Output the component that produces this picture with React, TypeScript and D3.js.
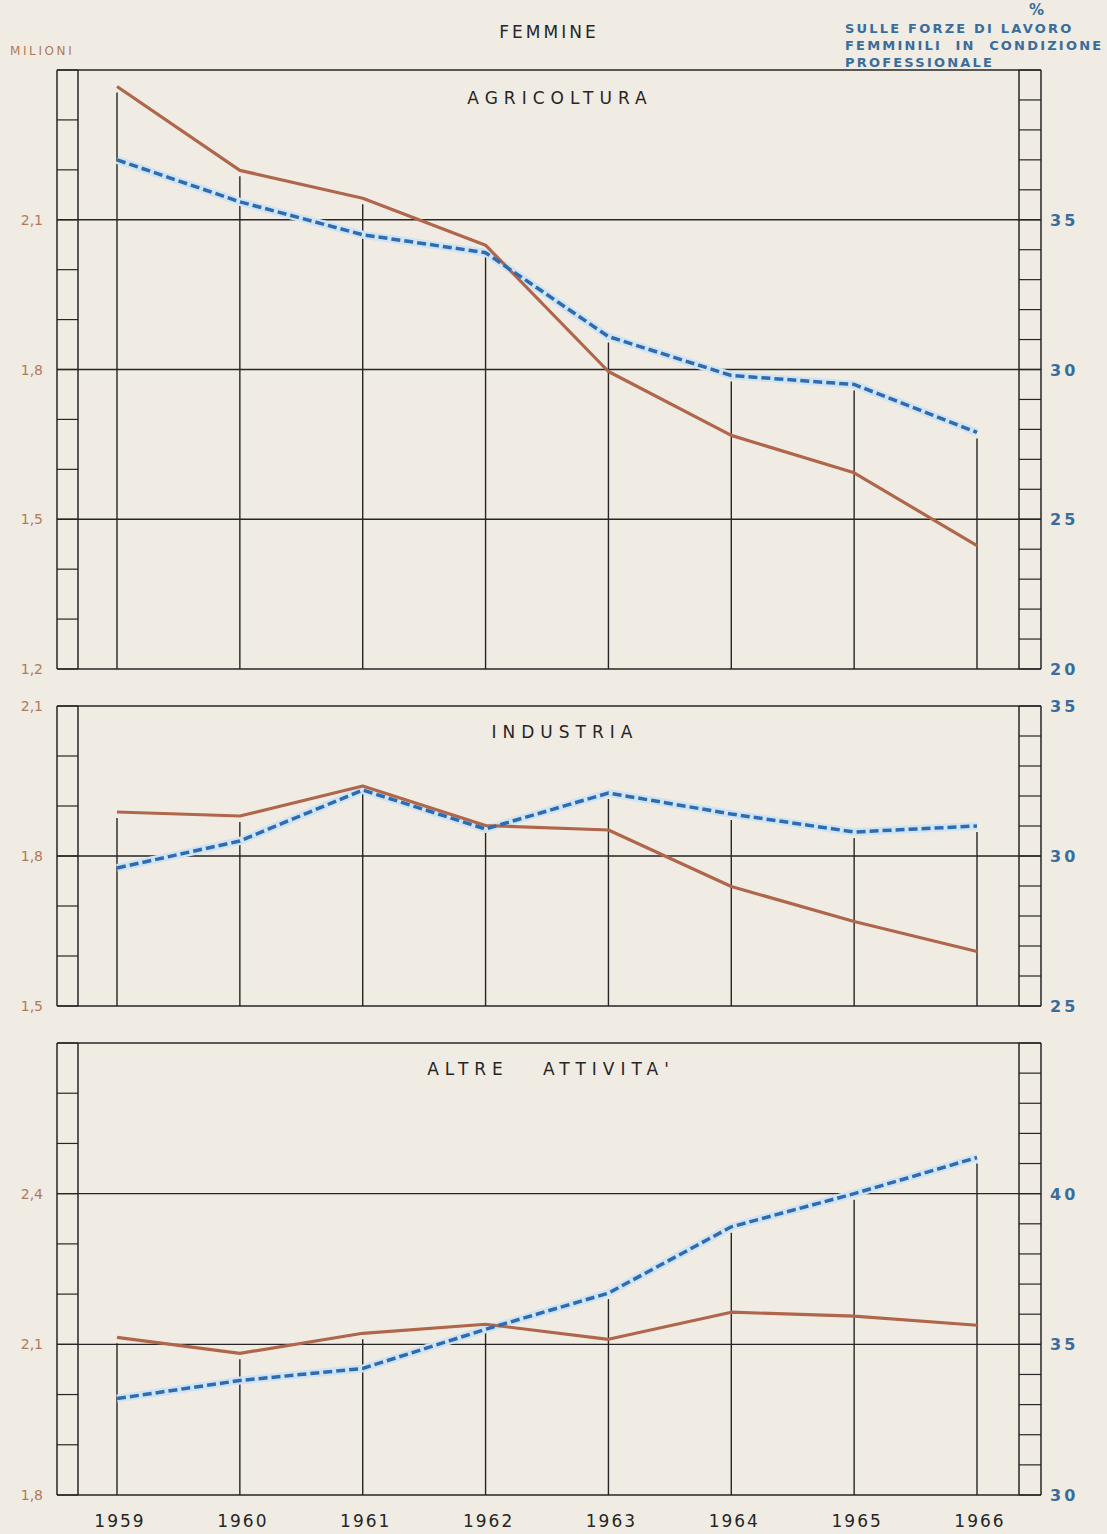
import React from "react";
import * as d3 from "d3";

// ---------- DATA ----------
const years = [1959, 1960, 1961, 1962, 1963, 1964, 1965, 1966];

// Agricoltura
const agriMilioni = [2.367, 2.199, 2.143, 2.049, 1.796, 1.668, 1.593, 1.447];
const agriPercent = [37.0, 35.6, 34.5, 33.9, 31.1, 29.8, 29.5, 27.9];
// Industria
const indMilioni = [1.888, 1.88, 1.94, 1.861, 1.852, 1.739, 1.669, 1.609];
const indPercent = [29.6, 30.5, 32.2, 30.9, 32.1, 31.4, 30.8, 31.0];
// Altre attività
const altreMilioni = [2.114, 2.082, 2.122, 2.14, 2.11, 2.164, 2.156, 2.138];
const altrePercent = [33.2, 33.8, 34.2, 35.5, 36.7, 38.9, 40.0, 41.2];

const panelTitles = ["AGRICOLTURA", "INDUSTRIA", "ALTRE   ATTIVITA'"];
const leftDomains = [[1.2, 2.4], [1.5, 2.1], [1.8, 2.7]];
const rightDomains = [[20, 40], [25, 35], [30, 45]];
const leftLabels = [[1.2, 1.5, 1.8, 2.1], [1.5, 1.8, 2.1], [1.8, 2.1, 2.4]];
const rightLabels = [[20, 25, 30, 35], [25, 30, 35], [30, 35, 40]];
const gridValues = [[1.5, 1.8, 2.1], [1.8], [2.1, 2.4]];

const headerTitle = "FEMMINE";
const unitLeft = "MILIONI";
const unitRightLines = ["SULLE FORZE DI LAVORO", "FEMMINILI  IN  CONDIZIONE", "PROFESSIONALE"];

// ---------- LAYOUT ----------
const W = 1107;
const H = 1534;
const xOuterL = 57;
const xInnerL = 78;
const xInnerR = 1019;
const xOuterR = 1041;
const panelTops = [70, 706, 1043];
const panelBottoms = [669, 1006, 1495];
const titleYs = [104, 738, 1075];
const titleXs = [560, 565, 551];

const BG = "#f0ece3";
const INK = "#262626";
const RED = "#b0664b";
const BLUE = "#2e6bb0";
const HALO = "#cfe3f3";
const LEFT_LABEL = "#b07a58";
const RIGHT_LABEL = "#3a6c9c";
const FONT = "'DejaVu Sans', 'Open Sans', sans-serif";

const x = d3.scaleLinear().domain([1959, 1966]).range([117, 977]);

const series = [
  [agriMilioni, agriPercent],
  [indMilioni, indPercent],
  [altreMilioni, altrePercent],
];

function Panel({ i }: { i: number }) {
  const top = panelTops[i];
  const bottom = panelBottoms[i];
  const yL = d3.scaleLinear().domain(leftDomains[i]).range([bottom, top]);
  const yR = d3.scaleLinear().domain(rightDomains[i]).range([bottom, top]);
  const [mil, pct] = series[i];

  const lineL = d3
    .line<number>()
    .x((_, j) => x(years[j]))
    .y((d) => yL(d));
  const lineR = d3
    .line<number>()
    .x((_, j) => x(years[j]))
    .y((d) => yR(d));

  const leftMinor = d3.range(
    Math.round(leftDomains[i][0] * 10),
    Math.round(leftDomains[i][1] * 10) + 1
  ).map((v) => v / 10);
  const rightMinor = d3.range(rightDomains[i][0], rightDomains[i][1] + 1);

  return (
    <g>
      {gridValues[i].map((v) => (
        <line key={"g" + v} x1={xOuterL} x2={xOuterR} y1={yL(v)} y2={yL(v)} stroke={INK} strokeWidth={1.4} />
      ))}
      {years.map((yr, j) => {
        const topY = Math.min(yL(mil[j]), yR(pct[j])) + 6;
        return (
          <line key={"v" + yr} x1={x(yr)} x2={x(yr)} y1={topY} y2={bottom} stroke={INK} strokeWidth={1.4} />
        );
      })}
      {leftMinor.map((v) => (
        <line key={"lt" + v} x1={xOuterL} x2={xInnerL} y1={yL(v)} y2={yL(v)} stroke={INK} strokeWidth={1.2} />
      ))}
      {rightMinor.map((v) => (
        <line key={"rt" + v} x1={xInnerR} x2={xOuterR} y1={yR(v)} y2={yR(v)} stroke={INK} strokeWidth={1.2} />
      ))}
      <line x1={xOuterL} x2={xOuterR} y1={top} y2={top} stroke={INK} strokeWidth={1.5} />
      <line x1={xOuterL} x2={xOuterR} y1={bottom} y2={bottom} stroke={INK} strokeWidth={1.5} />
      <line x1={xOuterL} x2={xOuterL} y1={top} y2={bottom} stroke={INK} strokeWidth={1.5} />
      <line x1={xInnerL} x2={xInnerL} y1={top} y2={bottom} stroke={INK} strokeWidth={1.5} />
      <line x1={xInnerR} x2={xInnerR} y1={top} y2={bottom} stroke={INK} strokeWidth={1.5} />
      <line x1={xOuterR} x2={xOuterR} y1={top} y2={bottom} stroke={INK} strokeWidth={1.5} />
      <text x={titleXs[i]} y={titleYs[i]} textAnchor="middle" fontFamily={FONT} fontSize={17} letterSpacing={6} fill={INK} style={{ whiteSpace: "pre" }}>
        {panelTitles[i]}
      </text>
      <path d={lineR(pct) || ""} fill="none" stroke={HALO} strokeWidth={8} strokeLinejoin="round" />
      <path d={lineL(mil) || ""} fill="none" stroke={RED} strokeWidth={3.2} strokeLinejoin="round" />
      <path d={lineR(pct) || ""} fill="none" stroke={BLUE} strokeWidth={3.5} strokeDasharray="9,4" />
      {leftLabels[i].map((v) => (
        <text key={"ll" + v} x={43} y={yL(v) + 5} textAnchor="end" fontFamily={FONT} fontSize={14} fill={LEFT_LABEL}>
          {d3.format(".1f")(v).replace(".", ",")}
        </text>
      ))}
      {rightLabels[i].map((v) => (
        <text key={"rl" + v} x={1050} y={yR(v) + 6} fontFamily={FONT} fontSize={16} fontWeight="bold" letterSpacing={3} fill={RIGHT_LABEL}>
          {v}
        </text>
      ))}
    </g>
  );
}

export default function App() {
  return (
    <div style={{ position: "absolute", left: 0, top: 0, width: W, height: H }}>
      <svg width={W} height={H} style={{ display: "block" }}>
        <rect x={0} y={0} width={W} height={H} fill={BG} />
        <text x={549} y={38} textAnchor="middle" fontFamily={FONT} fontSize={17} letterSpacing={3} fill={INK}>
          {headerTitle}
        </text>
        <text x={10} y={55} fontFamily={FONT} fontSize={12} letterSpacing={2.6} fill={LEFT_LABEL}>
          {unitLeft}
        </text>
        <text x={1029} y={15} fontFamily={FONT} fontSize={15} fontWeight="bold" fill={RIGHT_LABEL}>
          %
        </text>
        {unitRightLines.map((t, k) => (
          <text key={t} x={845} y={33 + k * 17} fontFamily={FONT} fontSize={13} fontWeight="bold" letterSpacing={2.2} fill={RIGHT_LABEL} style={{ whiteSpace: "pre" }}>
            {t}
          </text>
        ))}
        {[0, 1, 2].map((i) => (
          <Panel key={i} i={i} />
        ))}
        {years.map((yr) => (
          <text key={yr} x={x(yr) + 3} y={1527} textAnchor="middle" fontFamily={FONT} fontSize={17} letterSpacing={2} fill={INK}>
            {yr}
          </text>
        ))}
      </svg>
    </div>
  );
}
